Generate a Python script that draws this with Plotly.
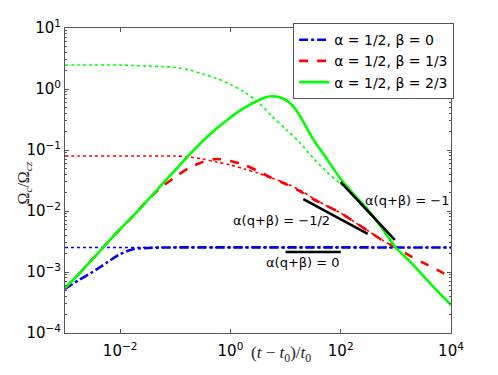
'''
    Rotation ratio versus time for three values of beta, in log-log axes,
    with the early asymptotes (dotted) and the late-time slope guides.
'''

import numpy as np
import plotly.graph_objects as go

# time axis (t - t0)/t0, quarter decades from 1e-3 to 1e4
t_grid = [0.001, 0.00178, 0.00316, 0.00562, 0.01, 0.0178, 0.0316, 0.0562,
          0.1, 0.178, 0.316, 0.562, 1, 1.78, 3.16, 5.62, 10, 17.8, 31.6,
          56.2, 100, 178, 316, 562, 1000, 1778, 3162, 5623, 10000]

# alpha = 1/2, beta = 0 (blue)
t_blue = [0.001, 0.00178, 0.00316, 0.00562, 0.01, 0.0178, 0.0316, 0.0562, 10000]
omega_blue = [5.26e-4, 7.39e-4, 1.0e-3, 1.41e-3, 1.97e-3, 2.38e-3, 2.48e-3,
              2.52e-3, 2.52e-3]
t_blue_dot = [0.001, 10000]
omega_blue_dot = [2.52e-3, 2.52e-3]

# alpha = 1/2, beta = 1/3 (red)
omega_red = [5.47e-4, 9.27e-4, 1.63e-3, 2.88e-3, 5.07e-3, 8.59e-3, 0.0151,
             0.0247, 0.0361, 0.0507, 0.0636, 0.0711, 0.066, 0.0568, 0.0453,
             0.0347, 0.0277, 0.0213, 0.0157, 0.0121, 9.27e-3, 6.6e-3, 4.7e-3,
             3.35e-3, 2.5e-3, 1.86e-3, 1.41e-3, 1.08e-3, 8.2e-4]
omega_red_dot = [0.0798, 0.0798, 0.0798, 0.0798, 0.0798, 0.0798, 0.0798,
                 0.0798, 0.0798, 0.0767, 0.0711, 0.0636, 0.0568, 0.0489,
                 0.042, 0.0347, 0.0288, 0.0221, 0.0163, 0.0121, 9.27e-3,
                 6.6e-3, 4.7e-3, 3.35e-3, 2.5e-3]

# alpha = 1/2, beta = 2/3 (green), finer around the maximum
t_green = [0.001, 0.00178, 0.00316, 0.00562, 0.01, 0.0178, 0.0316, 0.0562,
           0.1, 0.178, 0.316, 0.562, 1, 1.78, 3.16, 4.22, 5.62, 7.5, 10,
           13.3, 17.8, 23.7, 31.6, 56.2, 100, 178, 316, 562, 1000, 1778,
           3162, 5623, 10000]
omega_green = [5.47e-4, 9.27e-4, 1.63e-3, 2.88e-3, 5.07e-3, 8.59e-3, 0.0151,
               0.0267, 0.047, 0.0828, 0.1406, 0.225, 0.341, 0.489, 0.647,
               0.726, 0.762, 0.739, 0.661, 0.537, 0.375, 0.238, 0.151,
               0.0711, 0.0335, 0.0183, 0.0104, 5.26e-3, 2.5e-3, 1.51e-3,
               8.59e-4, 4.89e-4, 2.88e-4]
omega_green_dot = [2.47, 2.47, 2.47, 2.47, 2.47, 2.43, 2.38, 2.34, 2.25, 2.05,
                   1.76, 1.49, 1.19, 0.893, 0.612, 0.36, 0.221, 0.135, 0.0739,
                   0.0435, 0.0277, 0.0176, 0.01, 5.07e-3, 2.5e-3]

# slope guides
slope_labels = ['α(q+β) = 0', 'α(q+β) = −1/2', 'α(q+β) = −1']
slope_t = [[10, 100], [21, 309], [100, 955]]
slope_omega = [[2.13e-3, 2.13e-3], [0.0157, 0.0042], [0.0298, 0.00335]]
label_t = [20.4, 8.45, 1585]
label_omega = [1.41e-3, 6.86e-3, 0.0151]

legend_names = ['α = 1/2, β = 0', 'α = 1/2, β = 1/3', 'α = 1/2, β = 2/3']

BLUE, RED, GREEN = '#0000ff', '#ff0000', '#00ff00'
AXIS_GREY = '#555555'

fig = go.Figure()

# dotted early-time curves first, so the full solutions sit on top
fig.add_trace(go.Scatter(x=t_blue_dot, y=omega_blue_dot, mode='lines',
                         line=dict(color=BLUE, width=1.6, dash='dot'),
                         showlegend=False))
fig.add_trace(go.Scatter(x=t_grid[:len(omega_red_dot)], y=omega_red_dot,
                         mode='lines', line=dict(color=RED, width=1.6, dash='dot'),
                         line_shape='spline', line_smoothing=0.8, showlegend=False))
fig.add_trace(go.Scatter(x=t_grid[:len(omega_green_dot)], y=omega_green_dot,
                         mode='lines', line=dict(color=GREEN, width=1.6, dash='dot'),
                         line_shape='spline', line_smoothing=0.8, showlegend=False))

fig.add_trace(go.Scatter(x=t_blue, y=omega_blue, mode='lines',
                         name=legend_names[0], line_shape='spline', line_smoothing=0.6,
                         line=dict(color=BLUE, width=2.6, dash='dashdot')))
fig.add_trace(go.Scatter(x=t_grid, y=omega_red, mode='lines',
                         name=legend_names[1], line_shape='spline', line_smoothing=0.8,
                         line=dict(color=RED, width=2.6, dash='dash')))
fig.add_trace(go.Scatter(x=t_green, y=omega_green, mode='lines',
                         name=legend_names[2], line_shape='spline', line_smoothing=0.8,
                         line=dict(color=GREEN, width=2.6)))

for i in range(len(slope_labels)):
    fig.add_trace(go.Scatter(x=slope_t[i], y=slope_omega[i], mode='lines',
                             line=dict(color='black', width=2.6),
                             showlegend=False))
    fig.add_annotation(x=np.log10(label_t[i]), y=np.log10(label_omega[i]),
                       text=slope_labels[i], showarrow=False,
                       font=dict(family='DejaVu Sans', size=13, color='black'))

x_ticks = [1e-2, 1, 1e2, 1e4]
x_ticktext = ['10<sup>−2</sup>', '10<sup>0</sup>', '10<sup>2</sup>', '10<sup>4</sup>']
y_ticks = [1e-4, 1e-3, 1e-2, 1e-1, 1, 10]
y_ticktext = ['10<sup>−4</sup>', '10<sup>−3</sup>', '10<sup>−2</sup>',
              '10<sup>−1</sup>', '10<sup>0</sup>', '10<sup>1</sup>']

axis_style = dict(showline=True, linecolor=AXIS_GREY, linewidth=1, mirror='ticks',
                  ticks='inside', ticklen=4, tickcolor=AXIS_GREY, showgrid=False,
                  zeroline=False, tickmode='array', automargin=False,
                  tickfont=dict(family='DejaVu Sans', size=15, color='black'))

fig.update_xaxes(type='log', range=[-3, 4], tickvals=x_ticks,
                 ticktext=x_ticktext, ticklabelstandoff=4, **axis_style)
fig.update_yaxes(type='log', range=[-4, 1], tickvals=y_ticks,
                 ticktext=y_ticktext,
                 minor=dict(ticks='inside', ticklen=2, tickcolor=AXIS_GREY,
                            dtick='D1', showgrid=False),
                 **axis_style)

# axis titles as annotations so they sit where the original puts them
fig.add_annotation(xref='paper', yref='paper', x=0.5596, y=-0.112,
                   text='(<i>t</i> − <i>t</i><sub>0</sub>)/<i>t</i><sub>0</sub>',
                   showarrow=False,
                   font=dict(family='Liberation Serif', size=17, color='#222222'))
fig.add_annotation(xref='paper', yref='paper', x=-0.1347, y=0.492,
                   text='Ω<sub><i>c</i></sub>/Ω<sub><i>cz</i></sub>',
                   textangle=-90, showarrow=False,
                   font=dict(family='Liberation Serif', size=16, color='#222222'))

# the page body adds an 8px offset, so the figure is 8px smaller and shifted
fig.update_layout(
    width=490, height=367,
    margin=dict(l=57, r=47, t=20, b=42, autoexpand=False),
    paper_bgcolor='white', plot_bgcolor='white',
    showlegend=True,
    legend=dict(x=0.591, y=1.016, xanchor='left', yanchor='top',
                bgcolor='white', bordercolor=AXIS_GREY, borderwidth=1,
                font=dict(family='DejaVu Sans', size=14, color='black')),
)

fig.write_html('out.html')
